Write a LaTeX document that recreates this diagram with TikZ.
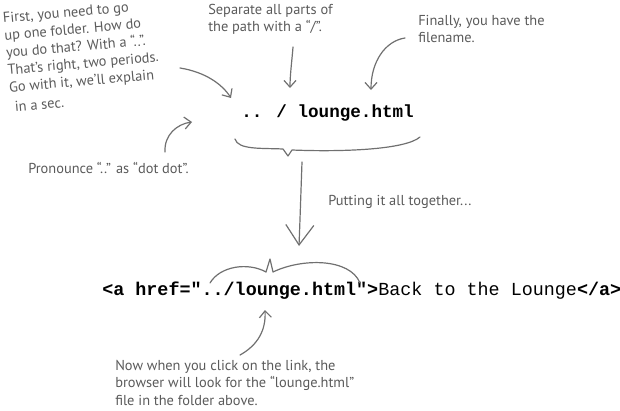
\documentclass[tikz,border=0pt]{standalone}
\usepackage{fontspec}
\setmainfont{PT Sans}
\newfontfamily\codefont{Liberation Mono}
\usetikzlibrary{arrows.meta}
\definecolor{ink}{HTML}{5A5A5A}
\definecolor{pen}{HTML}{707070}
\begin{document}
\begin{tikzpicture}[x=0.75pt,y=-0.75pt,
  note/.style={font=\fontsize{10.8}{13}\selectfont, text=ink, inner sep=0pt, align=left, anchor=base west},
  code/.style={font=\codefont\fontsize{13.8}{16}\selectfont, text=black, inner sep=0pt, anchor=base west},
  conn/.style={draw=pen, line width=0.9pt, line cap=round, -{Straight Barb[length=5pt,width=9pt]}},
  bigconn/.style={draw=pen, line width=0.9pt, line cap=round, -{Straight Barb[length=15pt,width=21pt]}},
  bracepen/.style={draw=pen, line width=0.9pt, line cap=round, line join=round}]
\useasboundingbox (0,0) rectangle (620,410);

% texts (anchor = baseline of the last line)
\node[note, rotate=5] (first) at (11,112) {First, you need to go\\up one folder. How do\\you do that? With a “..”.\\That’s right, two periods.\\Go with it, we’ll explain\\[2pt]\hspace{3pt}in a sec.};
\node[note] (sep) at (208,32) {Separate all parts of\\the path with a “/”.};
\node[note] (fin) at (418,43) {Finally, you have the\\filename.};
\node[note] (pron) at (28,173) {Pronounce “..” as “dot dot”.};
\node[note] (put) at (328,205) {Putting it all together...};
\node[note] (now) at (115,405) {Now when you click on the link, the\\browser will look for the “lounge.html”\\file in the folder above.};

\node[code, font=\codefont\fontsize{13.2}{16}\selectfont] (path) at (241,117) {\textbf{.. / lounge.html}};
\node[code] (tag) at (102,295) {\textbf{<a href="../lounge.html">}Back to the Lounge\textbf{</a>}};

% connector ends
\coordinate (a1s) at (180,68);  \coordinate (a1e) at (231,98);
\coordinate (a2s) at (293,47);  \coordinate (a2e) at (290,88);
\coordinate (a3s) at (405,38);  \coordinate (a3e) at (371,90);
\coordinate (a4s) at (165,152); \coordinate (a4e) at (192,122);
\coordinate (a5s) at (302,162); \coordinate (a5e) at (299,246);
\coordinate (a6s) at (240,355); \coordinate (a6e) at (265,310);

\draw[conn] (a1s) .. controls (205,72) and (222,84) .. (a1e);
\draw[conn] (a2s) .. controls (292,60) and (290,75) .. (a2e);
\draw[conn] (a3s) .. controls (385,41) and (371,62) .. (a3e);
\draw[conn] (a4s) .. controls (164,135) and (177,124) .. (a4e);
\draw[bigconn] (a5s) .. controls (301,190) and (300,220) .. (a5e);
\draw[conn] (a6s) .. controls (258,345) and (266,330) .. (a6e);

% braces
\draw[bracepen] (235,139) .. controls (238,150) and (262,148) .. (283,149)
  -- (288,156) -- (292,150) .. controls (340,152) and (405,150) .. (420,137);
\draw[bracepen] (210,283) .. controls (220,266) and (248,262) .. (266,272)
  -- (270,259) -- (273,272) .. controls (302,258) and (350,258) .. (360,283);
\end{tikzpicture}
\end{document}
